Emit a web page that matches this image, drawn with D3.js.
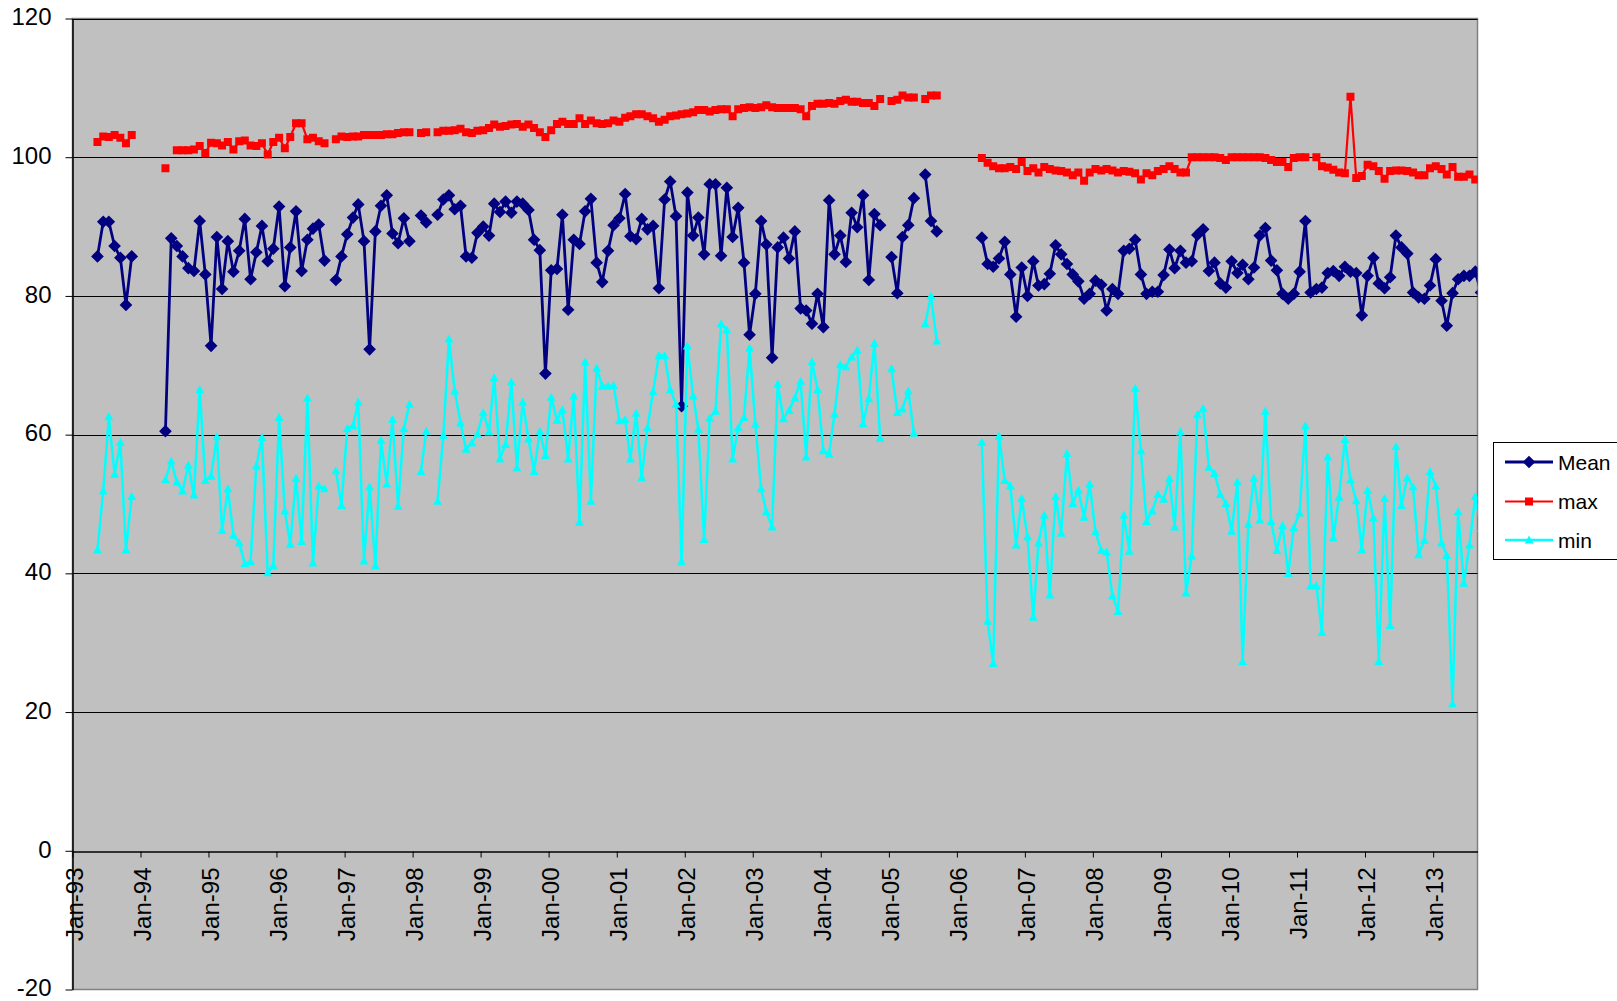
<!DOCTYPE html>
<html>
<head>
<meta charset="utf-8">
<script src="https://cdn.jsdelivr.net/npm/d3@7"></script>
<style>
  body { margin: 0; background: #ffffff; }
  svg { display: block; }
  text { font-family: Arial, "Liberation Sans", sans-serif; fill: #000; }
</style>
</head>
<body>
<svg id="chart" width="1617" height="1001"></svg>
<script>
// Monthly readings, one entry per month starting January 1993; null = no reading that month.
const firstYear = 1993;

const meanValues = [
  null, null, null, null, 85.7, 90.7, 90.7, 87.2, 85.5, 78.7, 85.7, null,   // 1993
  null, null, null, null, 60.5, 88.3, 87.2, 85.7, 84.0, 83.6, 90.8, 83.1,   // 1994
  72.8, 88.5, 81.0, 87.9, 83.5, 86.5, 91.1, 82.4, 86.3, 90.1, 85.0, 86.8,   // 1995
  92.9, 81.4, 87.0, 92.2, 83.6, 88.1, 89.7, 90.3, 85.1, null, 82.3, 85.7,   // 1996
  88.9, 91.3, 93.2, 87.9, 72.3, 89.3, 93.0, 94.5, 89.0, 87.6, 91.2, 87.9,   // 1997
  null, 91.6, 90.6, null, 91.7, 93.9, 94.5, 92.5, 93.0, 85.7, 85.5, 89.1,   // 1998
  90.0, 88.7, 93.3, 92.1, 93.6, 92.0, 93.6, 93.3, 92.4, 88.1, 86.6, 68.8,   // 1999
  83.7, 83.9, 91.7, 78.0, 88.1, 87.5, 92.2, 94.0, 84.8, 82.0, 86.5, 90.2,   // 2000
  91.2, 94.7, 88.6, 88.2, 91.1, 89.6, 90.1, 81.1, 93.9, 96.5, 91.5, 64.1,   // 2001
  94.9, 88.7, 91.3, 86.0, 96.1, 96.1, 85.8, 95.6, 88.5, 92.7, 84.8, 74.4,   // 2002
  80.3, 90.8, 87.4, 71.1, 87.0, 88.4, 85.4, 89.3, 78.2, 77.9, 76.0, 80.3,   // 2003
  75.5, 93.8, 86.0, 88.7, 84.9, 92.0, 89.9, 94.5, 82.3, 91.8, 90.2, null,   // 2004
  85.6, 80.4, 88.5, 90.2, 94.1, null, 97.5, 90.8, 89.3, null, null, null,   // 2005
  null, null, null, null, 88.4, 84.6, 84.2, 85.4, 87.8, 83.1, 77.0, 84.1,   // 2006
  80.0, 85.0, 81.5, 81.7, 83.2, 87.3, 86.0, 84.6, 83.1, 82.1, 79.6, 80.3,   // 2007
  82.2, 81.6, 77.9, 81.0, 80.3, 86.5, 86.8, 88.1, 83.1, 80.3, 80.6, 80.6,   // 2008
  83.0, 86.7, 84.0, 86.5, 84.8, 85.0, 88.8, 89.6, 83.6, 84.8, 81.8, 81.2,   // 2009
  85.0, 83.3, 84.5, 82.4, 84.1, 88.7, 89.8, 85.1, 83.7, 80.3, 79.6, 80.3,   // 2010
  83.5, 90.8, 80.5, 81.0, 81.2, 83.3, 83.6, 82.9, 84.2, 83.5, 83.3, 77.2,   // 2011
  82.9, 85.5, 81.8, 81.1, 82.7, 88.7, 87.0, 86.1, 80.5, 79.8, 79.6, 81.5,   // 2012
  85.3, 79.3, 75.7, 80.4, 82.4, 82.9, 82.9, 83.5, 80.5                      // 2013
];

const maxValues = [
  null, null, null, null, 102.2, 103.0, 102.9, 103.2, 102.8, 102.0, 103.2, null,
  null, null, null, null, 98.4, null, 101.0, 101.0, 101.0, 101.1, 101.6, 100.6,
  102.1, 102.0, 101.7, 102.2, 101.1, 102.3, 102.4, 101.7, 101.6, 102.0, 100.4, 102.2,
  102.8, 101.3, 102.9, 104.9, 104.9, 102.6, 102.8, 102.3, 102.0, null, 102.6, 103.0,
  102.9, 103.0, 103.0, 103.2, 103.2, 103.2, 103.2, 103.3, 103.3, 103.5, 103.6, 103.6,
  null, 103.5, 103.6, null, 103.6, 103.8, 103.8, 103.9, 104.1, 103.6, 103.5, 103.8,
  103.9, 104.2, 104.7, 104.4, 104.5, 104.7, 104.8, 104.4, 104.7, 104.2, 103.6, 102.9,
  103.9, 104.8, 105.1, 104.8, 104.8, 105.6, 104.8, 105.3, 104.9, 104.8, 104.9, 105.3,
  105.1, 105.7, 105.9, 106.2, 106.2, 105.9, 105.6, 105.1, 105.4, 105.9, 106.0, 106.2,
  106.3, 106.5, 106.8, 106.8, 106.6, 106.8, 106.9, 106.9, 105.9, 106.9, 107.1, 107.2,
  107.1, 107.2, 107.5, 107.2, 107.1, 107.1, 107.1, 107.1, 106.9, 105.9, 107.4, 107.7,
  107.7, 107.8, 107.7, 108.1, 108.3, 108.0, 108.0, 107.8, 107.8, 107.4, 108.4, null,
  108.1, 108.3, 108.9, 108.6, 108.6, null, 108.4, 108.9, 108.9, null, null, null,
  null, null, null, null, 99.9, 99.2, 98.7, 98.4, 98.4, 98.6, 98.3, 99.3,
  98.0, 98.4, 97.8, 98.6, 98.3, 98.1, 98.0, 97.8, 97.4, 97.8, 96.6, 97.8,
  98.3, 98.1, 98.3, 98.1, 97.8, 98.0, 97.9, 97.7, 96.8, 97.7, 97.4, 98.0,
  98.3, 98.7, 98.3, 97.8, 97.8, 100.0, 100.0, 100.0, 100.0, 100.0, 99.9, 99.6,
  100.0, 100.0, 100.0, 100.0, 100.0, 100.0, 99.9, 99.6, 99.3, 99.3, 98.6, 99.9,
  100.0, 100.0, null, 100.0, 98.7, 98.5, 98.2, 97.8, 97.7, 108.7, 97.0, 97.3,
  98.9, 98.7, 98.0, 96.9, 98.0, 98.1, 98.1, 98.0, 97.8, 97.4, 97.4, 98.4,
  98.7, 98.3, 97.5, 98.6, 97.2, 97.2, 97.5, 96.8, 96.8
];

const minValues = [
  null, null, null, null, 43.4, 51.9, 62.6, 54.3, 58.9, 43.4, 51.1, null,
  null, null, null, null, 53.5, 56.2, 53.2, 51.9, 55.6, 51.3, 66.5, 53.4,
  54.0, 59.7, 46.2, 52.2, 45.5, 44.4, 41.4, 41.7, 55.5, 59.6, 40.1, 41.1,
  62.5, 49.0, 44.2, 53.7, 44.6, 65.3, 41.5, 52.6, 52.2, null, 54.8, 49.8,
  60.9, 61.3, 64.7, 41.8, 52.5, 41.1, 59.2, 52.9, 62.2, 49.7, 60.9, 64.4,
  null, 54.7, 60.5, null, 50.4, 59.9, 73.8, 66.3, 61.7, 57.9, 58.8, 60.1,
  63.2, 60.4, 68.2, 56.5, 58.6, 67.6, 55.2, 64.7, 59.4, 54.7, 60.5, 57.0,
  65.4, 62.1, 63.6, 56.5, 65.6, 47.4, 70.5, 50.4, 69.6, 67.0, 67.0, 67.1,
  62.0, 62.2, 56.5, 63.1, 53.8, 61.0, 66.2, 71.4, 71.4, 66.5, 64.4, 41.7,
  72.8, 65.6, 60.8, 44.9, 62.4, 63.4, 76.0, 75.1, 56.5, 61.0, 62.5, 72.5,
  61.5, 52.2, 48.9, 46.7, 67.3, 62.3, 63.5, 65.3, 67.7, 56.8, 70.5, 66.5,
  57.7, 57.2, 63.0, 70.1, 69.8, 71.2, 72.2, 61.6, 65.2, 73.2, 59.5, null,
  69.5, 63.2, 63.7, 66.3, 60.2, null, 76.0, 80.0, 73.5, null, null, null,
  null, null, null, null, 58.9, 33.1, 27.0, 59.8, 53.4, 52.6, 44.1, 50.8,
  45.3, 33.7, 44.4, 48.4, 36.9, 51.1, 45.8, 57.3, 50.1, 52.0, 48.1, 52.9,
  46.0, 43.3, 43.1, 36.8, 34.5, 48.4, 43.2, 66.7, 57.7, 47.5, 49.0, 51.4,
  50.7, 53.7, 46.7, 60.4, 37.2, 42.5, 62.9, 63.8, 55.3, 54.4, 51.4, 50.1,
  46.1, 53.2, 27.3, 47.1, 53.7, 47.7, 63.4, 47.5, 43.3, 46.9, 40.0, 46.6,
  48.7, 61.3, 38.2, 38.2, 31.5, 56.8, 45.1, 51.0, 59.3, 53.5, 50.5, 43.4,
  52.0, 48.0, 27.3, 50.8, 32.5, 58.3, 49.8, 53.8, 52.5, 42.7, 44.8, 54.7,
  52.6, 44.4, 42.6, 21.2, 48.9, 38.6, 44.1, 51.1, 46.5
];

const seriesNames = ["Mean", "max", "min"];
const seriesColors = ["#000080", "#ff0000", "#00ffff"];
const yTickValues = [-20, 0, 20, 40, 60, 80, 100, 120];
const axisStart = new Date(1993, 0, 1);
const axisEnd = new Date(2013, 7, 27);

// ---- layout ----
const plot = { left: 72.5, right: 1477.5, top: 18.5, bottom: 989.5 };
const svg = d3.select("#chart");

const x = d3.scaleTime().domain([axisStart, axisEnd]).range([plot.left, plot.right]);
const y = d3.scaleLinear().domain([-20, 120]).range([plot.bottom, plot.top]);

// one record per month, readings dated mid-month
function toPoints(values) {
  return values.map((v, i) => ({ date: new Date(firstYear, i, 15), v }));
}
const series = [meanValues, maxValues, minValues].map((vals, i) => ({
  name: seriesNames[i], color: seriesColors[i], points: toPoints(vals)
}));

// plot area background
svg.append("rect")
  .attr("x", plot.left).attr("y", plot.top)
  .attr("width", plot.right - plot.left).attr("height", plot.bottom - plot.top)
  .attr("fill", "#c0c0c0").attr("stroke", "#808080").attr("stroke-width", 1.5);

svg.append("defs").append("clipPath").attr("id", "plotClip")
  .append("rect")
  .attr("x", plot.left).attr("y", plot.top)
  .attr("width", plot.right - plot.left).attr("height", plot.bottom - plot.top);

// horizontal gridlines
svg.append("g").selectAll("line")
  .data(yTickValues.filter(t => t > 0))
  .join("line")
  .attr("x1", plot.left).attr("x2", plot.right)
  .attr("y1", d => Math.round(y(d)) + 0.5).attr("y2", d => Math.round(y(d)) + 0.5)
  .attr("stroke", "#000").attr("stroke-width", 1);

const axisFont = "Arial, 'Liberation Sans', sans-serif";

// y axis
const yAxis = svg.append("g")
  .attr("transform", `translate(${plot.left},0)`)
  .call(d3.axisLeft(y).tickValues(yTickValues).tickSize(7).tickSizeOuter(0).tickPadding(14).tickFormat(d => String(d)));
yAxis.select(".domain").attr("stroke", "#000").attr("stroke-width", 1.5);
yAxis.selectAll(".tick line").attr("stroke", "#000");
yAxis.selectAll("text").attr("font-size", 24).attr("dy", "0.26em").style("font-family", axisFont);

// x axis sits on the zero line
const xAxis = svg.append("g")
  .attr("transform", `translate(0,${Math.round(y(0)) + 0.5})`)
  .call(d3.axisBottom(x).ticks(d3.timeYear.every(1)).tickFormat(d3.timeFormat("%b-%y")).tickSize(6).tickSizeOuter(0));
xAxis.select(".domain").attr("stroke", "#000").attr("stroke-width", 1.5);
xAxis.selectAll(".tick line").attr("stroke", "#000");
xAxis.selectAll("text")
  .attr("font-size", 24)
  .style("font-family", axisFont)
  .attr("transform", "rotate(-90)")
  .attr("text-anchor", "end")
  .attr("x", -16).attr("y", 0).attr("dy", "0.4em");

// marker shapes
const diamond = { draw(ctx, size) { const r = Math.sqrt(size / 2); ctx.moveTo(0, -r); ctx.lineTo(r, 0); ctx.lineTo(0, r); ctx.lineTo(-r, 0); ctx.closePath(); } };
const square = { draw(ctx, size) { const h = Math.sqrt(size) / 2; ctx.rect(-h, -h, 2 * h, 2 * h); } };
const triangle = { draw(ctx, size) { const h = Math.sqrt(size) / 2; ctx.moveTo(0, -h); ctx.lineTo(h, h * 0.8); ctx.lineTo(-h, h * 0.8); ctx.closePath(); } };
const markerTypes = [diamond, square, triangle];
const markerSizes = [80, 64, 81];
const lineWidths = [2.8, 2.2, 2.5];

const line = d3.line()
  .defined(d => d.v != null)
  .x(d => x(d.date))
  .y(d => y(d.v));

const plotLayer = svg.append("g").attr("clip-path", "url(#plotClip)");

series.forEach((s, i) => {
  const g = plotLayer.append("g");
  g.append("path")
    .datum(s.points)
    .attr("d", line)
    .attr("fill", "none")
    .attr("stroke", s.color)
    .attr("stroke-width", lineWidths[i])
    .attr("stroke-linejoin", "round");
  g.selectAll("path.marker")
    .data(s.points.filter(d => d.v != null))
    .join("path")
    .attr("class", "marker")
    .attr("transform", d => `translate(${x(d.date)},${y(d.v)})`)
    .attr("d", d3.symbol().type(markerTypes[i]).size(markerSizes[i]))
    .attr("fill", s.color);
});

// legend
const legend = svg.append("g");
legend.append("rect")
  .attr("x", 1493.5).attr("y", 442.5).attr("width", 160).attr("height", 117)
  .attr("fill", "#fff").attr("stroke", "#000").attr("stroke-width", 1);
const legendRows = [462, 501.5, 540];
series.forEach((s, i) => {
  const row = legend.append("g").attr("transform", `translate(0,${legendRows[i]})`);
  row.append("line").attr("x1", 1505).attr("x2", 1553).attr("y1", 0).attr("y2", 0)
    .attr("stroke", s.color).attr("stroke-width", lineWidths[i]);
  row.append("path").attr("transform", "translate(1529,0)")
    .attr("d", d3.symbol().type(markerTypes[i]).size(markerSizes[i]))
    .attr("fill", s.color);
  row.append("text").attr("x", 1558).attr("y", 0).attr("dy", "0.36em")
    .attr("font-size", 21).text(s.name);
});
</script>
</body>
</html>
